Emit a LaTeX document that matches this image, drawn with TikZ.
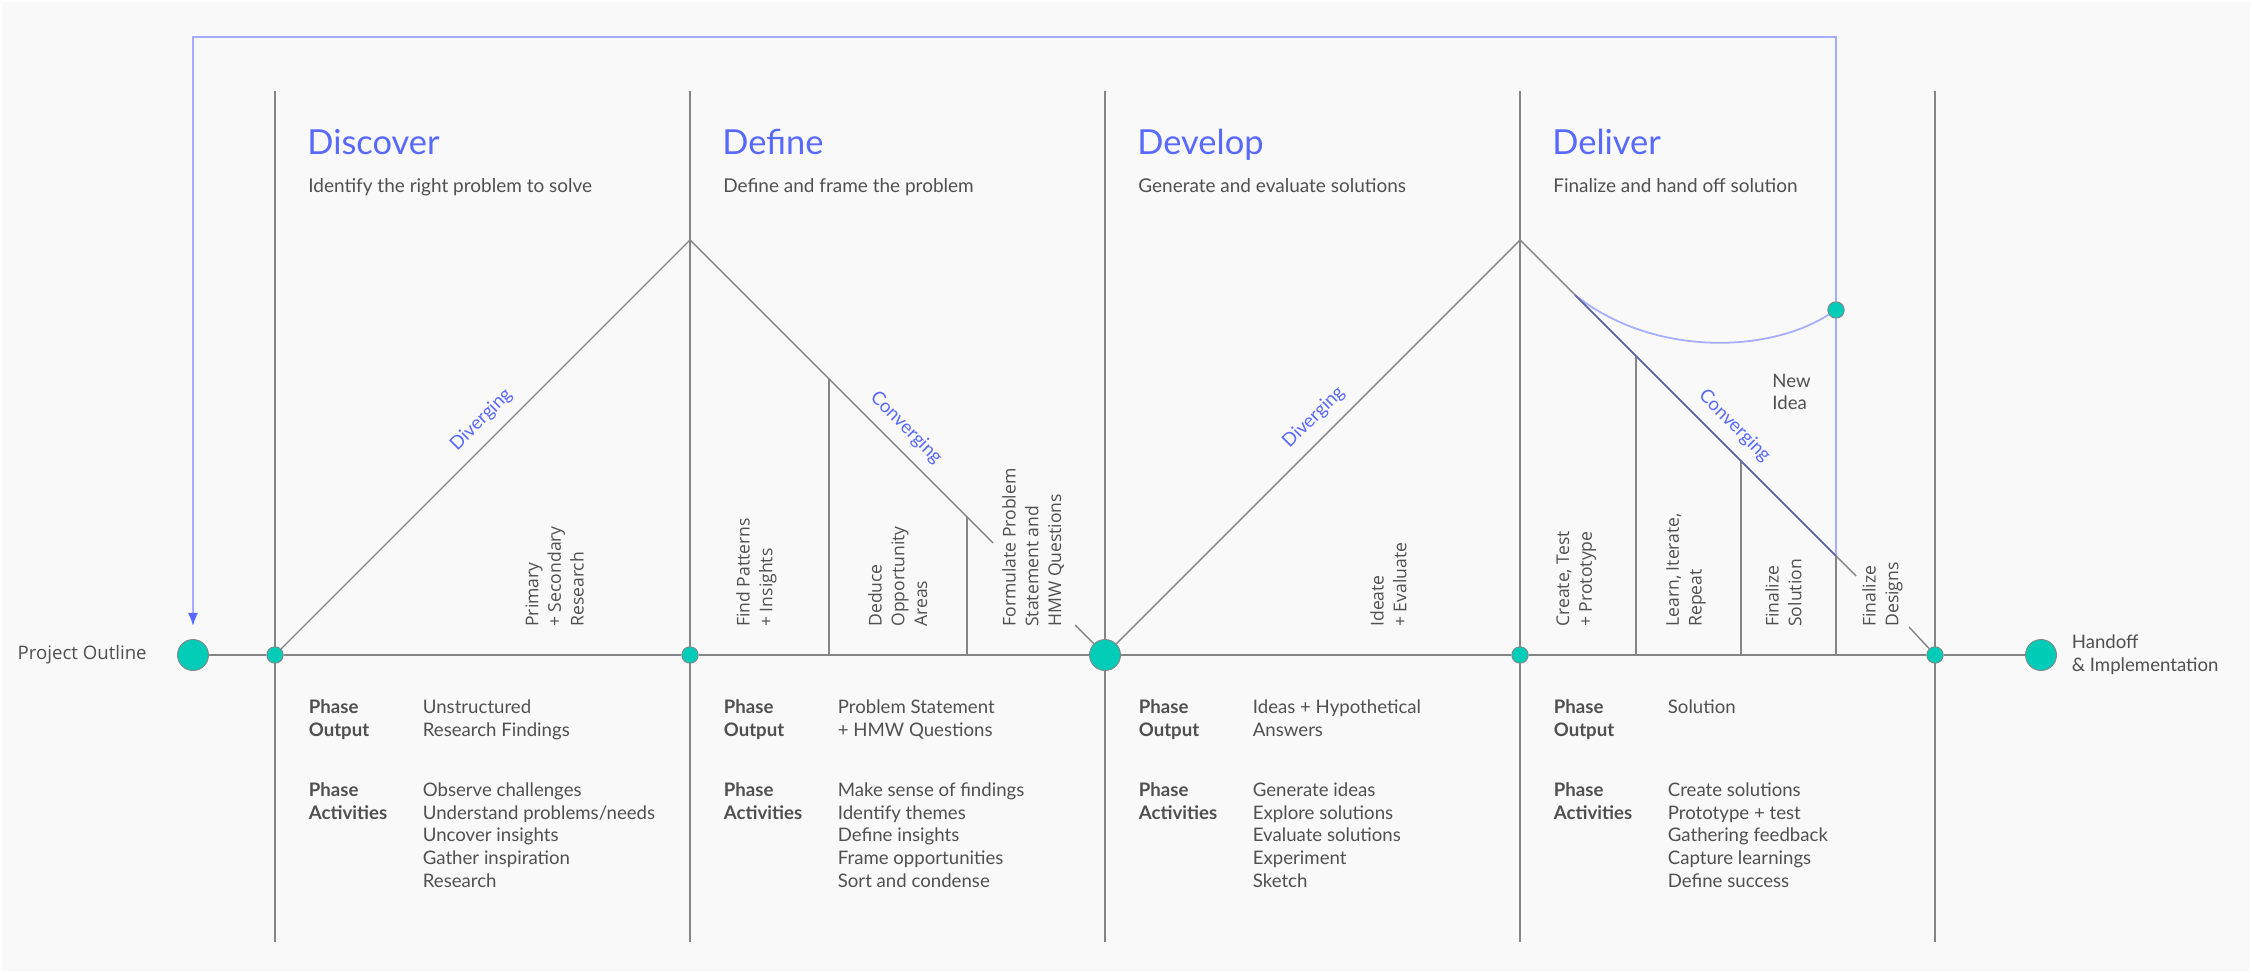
\documentclass[tikz,border=0pt]{standalone}
\usepackage{fontspec}
\setmainfont{Lato}
\newfontfamily\opensans{Open Sans}
\usetikzlibrary{positioning,arrows.meta}

\definecolor{paper}{HTML}{F9F9F9}
\definecolor{rule}{HTML}{858585}
\definecolor{ink}{HTML}{505050}
\definecolor{phaseblue}{HTML}{5869FF}
\definecolor{loopblue}{HTML}{A4ADFF}
\definecolor{loopnavy}{HTML}{5E66A6}
\definecolor{dotteal}{HTML}{00CCB8}

\tikzset{
    bigdot/.style={circle, fill=dotteal, draw=rule, line width=0.5pt, minimum size=0.62cm, inner sep=0pt},
    smalldot/.style={circle, fill=dotteal, draw=rule, line width=0.5pt, minimum size=0.33cm, inner sep=0pt},
    divider/.style={rule, line width=0.8pt},
    loopline/.style={loopblue, line width=1pt},
    phasehead/.style={anchor=base west, inner sep=0pt, text=phaseblue, font=\fontsize{19.6}{22}\selectfont},
    phasesub/.style={anchor=base west, inner sep=0pt, text=ink, font=\fontsize{10.8}{12.9}\selectfont},
    phasetext/.style={anchor=north west, inner sep=0pt, text=ink, align=left, font=\fontsize{10.6}{12.9}\selectfont},
    phasekey/.style={phasetext, font=\fontsize{10.6}{12.9}\selectfont\bfseries},
    actlabel/.style={phasetext, rotate=90, font=\opensans\fontsize{10}{12.9}\selectfont},
    flowlabel/.style={text=phaseblue, font=\fontsize{10.6}{12.9}\selectfont, sloped, above=3pt}
}

\begin{document}
    \begin{tikzpicture}
        \useasboundingbox (-5.5,-6.36) rectangle (39.54,13.1);
        \fill[white] (-5.5,-6.36) rectangle (39.54,13.1);
        \fill[paper] (-5.46,-6.32) rectangle (39.5,13.06);

        \draw[divider] (0,11.28) -- (0,-5.74);
        \draw[divider] (8.3,11.28) -- (8.3,-5.74);
        \draw[divider] (16.6,11.28) -- (16.6,-5.74);
        \draw[divider] (24.9,11.28) -- (24.9,-5.74);
        \draw[divider] (33.2,11.28) -- (33.2,-5.74);

        \draw[divider] (11.08,5.52) -- (11.08,0);
        \draw[divider] (13.84,2.76) -- (13.84,0);
        \draw[divider] (27.22,5.98) -- (27.22,0);
        \draw[divider] (29.32,3.88) -- (29.32,0);
        \draw[divider] (31.22,1.98) -- (31.22,0);

        \node[bigdot] (outline) at (-1.64,0) {};
        \node[smalldot] (s1) at (0,0) {};
        \node[smalldot] (s2) at (8.3,0) {};
        \node[bigdot] (s3) at (16.6,0) {};
        \node[smalldot] (s4) at (24.9,0) {};
        \node[smalldot] (s5) at (33.2,0) {};
        \node[bigdot] (handoff) at (35.32,0) {};
        \node[smalldot] (newidea) at (31.22,6.9) {};

        \coordinate (top1) at (8.3,8.3);
        \coordinate (top2) at (24.9,8.3);
        \coordinate (convend1) at (14.36,2.24);
        \coordinate (convend2) at (31.62,1.58);
        \coordinate (lead1) at (16.0,0.6);
        \coordinate (lead2) at (32.68,0.56);
        \coordinate (loopstart) at (26.0,7.2);
        \coordinate (loopbot) at (31.22,1.98);
        \coordinate (looptop) at (-1.64,12.36);
        \coordinate (arrowend) at (-1.64,0.58);

        \draw[divider, line width=1.1pt] (outline) -- (s1) -- (s2) -- (s3) -- (s4) -- (s5) -- (handoff);

        \draw[divider] (s1) -- node[flowlabel, pos=0.525] {Diverging} (top1);
        \draw[divider] (top1) -- (convend1);
        \path (top1) -- node[flowlabel] {Converging} (s3);
        \draw[divider] (lead1) -- (s3);
        \draw[divider] (s3) -- node[flowlabel, pos=0.525] {Diverging} (top2);
        \draw[divider] (top2) -- (convend2);
        \path (top2) -- node[flowlabel, pos=0.49] {Converging} (s5);
        \draw[divider] (lead2) -- (s5);

        \draw[loopline] (loopstart) .. controls (27.5,6.0) and (29.8,6.0) .. (newidea);
        \draw[loopline] (newidea) -- (loopbot);
        \draw[loopnavy, line width=0.9pt] (loopbot) -- (loopstart);
        \draw[loopline, -{Latex[length=0.26cm, width=0.2cm, color=phaseblue]}] (newidea) |- (looptop) -- (arrowend);

        \node[phasetext, font=\opensans\fontsize{10.6}{12.9}\selectfont, left=0.6cm of outline] (outlinelabel) {Project Outline};
        \node[phasetext, right=0.29cm of handoff] (handofflabel) {Handoff\\\& Implementation};
        \node[phasetext] (ideatext) at (29.94,5.63) {New\\Idea};

        \node[phasehead] (discover) at (0.64,10) {Discover};
        \node[phasesub] (discoversub) at (0.66,9.24) {Identify the right problem to solve};
        \node[phasehead] (define) at (8.94,10) {Define};
        \node[phasesub] (definesub) at (8.96,9.24) {Define and frame the problem};
        \node[phasehead] (develop) at (17.24,10) {Develop};
        \node[phasesub] (developsub) at (17.26,9.24) {Generate and evaluate solutions};
        \node[phasehead] (deliver) at (25.54,10) {Deliver};
        \node[phasesub] (deliversub) at (25.56,9.24) {Finalize and hand off solution};

        \node[actlabel] (research) at (5.0,0.56) {Primary\\+ Secondary\\Research};
        \node[actlabel] (patterns) at (9.22,0.56) {Find Patterns\\+ Insights};
        \node[actlabel] (deduce) at (11.86,0.56) {Deduce\\Opportunity\\Areas};
        \node[actlabel] (formulate) at (14.54,0.56) {Formulate Problem\\Statement and\\HMW Questions};
        \node[actlabel] (ideate) at (21.9,0.56) {Ideate\\+ Evaluate};
        \node[actlabel] (create) at (25.62,0.56) {Create, Test\\+ Prototype};
        \node[actlabel] (learn) at (27.82,0.56) {Learn, Iterate,\\Repeat};
        \node[actlabel] (solution) at (29.8,0.56) {Finalize\\Solution};
        \node[actlabel] (designs) at (31.74,0.56) {Finalize\\Designs};

        \node[phasekey] (outkey1) at (0.67,-0.89) {Phase\\Output};
        \node[phasetext] (out1) at (2.95,-0.89) {Unstructured\\Research Findings};
        \node[phasekey] (actkey1) at (0.67,-2.55) {Phase\\Activities};
        \node[phasetext] (act1) at (2.95,-2.55) {Observe challenges\\Understand problems/needs\\Uncover insights\\Gather inspiration\\Research};

        \node[phasekey] (outkey2) at (8.97,-0.89) {Phase\\Output};
        \node[phasetext] (out2) at (11.25,-0.89) {Problem Statement\\+ HMW Questions};
        \node[phasekey] (actkey2) at (8.97,-2.55) {Phase\\Activities};
        \node[phasetext] (act2) at (11.25,-2.55) {Make sense of findings\\Identify themes\\Define insights\\Frame opportunities\\Sort and condense};

        \node[phasekey] (outkey3) at (17.27,-0.89) {Phase\\Output};
        \node[phasetext] (out3) at (19.55,-0.89) {Ideas + Hypothetical\\Answers};
        \node[phasekey] (actkey3) at (17.27,-2.55) {Phase\\Activities};
        \node[phasetext] (act3) at (19.55,-2.55) {Generate ideas\\Explore solutions\\Evaluate solutions\\Experiment\\Sketch};

        \node[phasekey] (outkey4) at (25.57,-0.89) {Phase\\Output};
        \node[phasetext] (out4) at (27.85,-0.89) {Solution};
        \node[phasekey] (actkey4) at (25.57,-2.55) {Phase\\Activities};
        \node[phasetext] (act4) at (27.85,-2.55) {Create solutions\\Prototype + test\\Gathering feedback\\Capture learnings\\Define success};
    \end{tikzpicture}
\end{document}
